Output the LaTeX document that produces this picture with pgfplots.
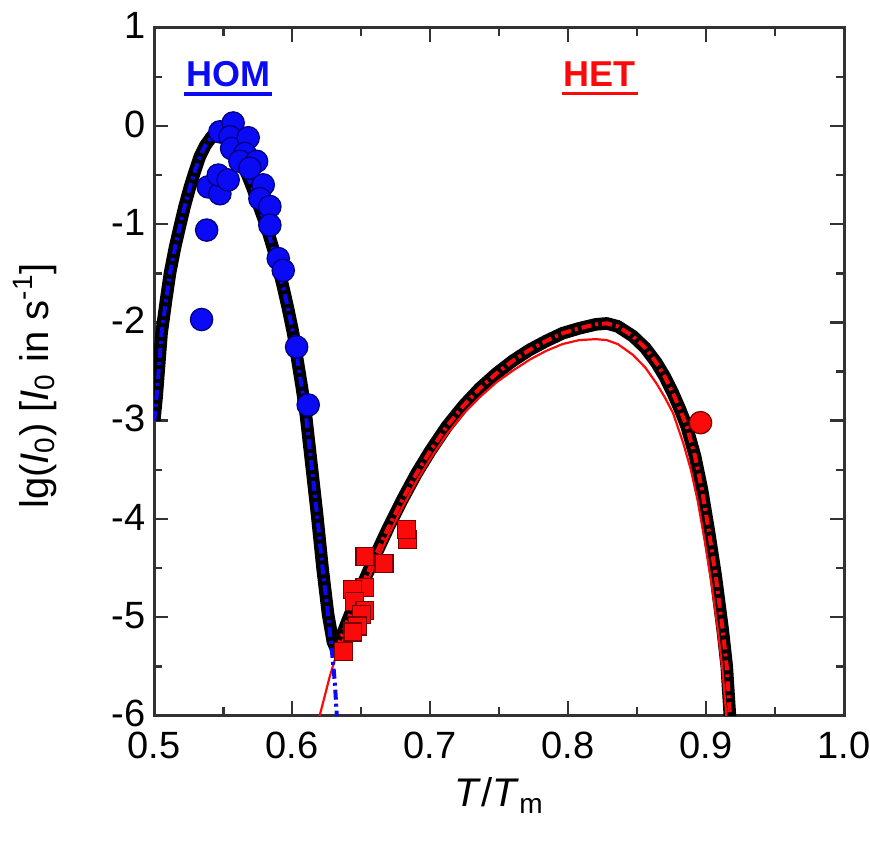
\documentclass[border=0pt]{standalone}
\usepackage{fontspec}
\setmainfont{Liberation Sans}
\usepackage{pgfplots}
\pgfplotsset{compat=1.18}

\definecolor{homblue}{RGB}{10,10,245}
\definecolor{homedge}{RGB}{0,0,120}
\definecolor{hetred}{RGB}{250,10,10}
\definecolor{hetedge}{RGB}{120,0,0}
\definecolor{axgray}{RGB}{50,50,50}

\begin{document}
\begin{tikzpicture}
\begin{axis}[
  width=345pt, height=344pt, scale only axis,
  xmin=0.5, xmax=1.0, ymin=-6, ymax=1,
  xtick={0.5,0.6,0.7,0.8,0.9,1.0}, minor x tick num=1,
  ytick={-6,-5,-4,-3,-2,-1,0,1}, minor y tick num=1,
  tick align=inside, major tick length=7pt, minor tick length=4pt,
  every tick/.style={axgray, line width=1.3pt},
  axis line style={axgray, line width=1.5pt},
  /pgf/number format/assume math mode=true,
  xticklabel style={/pgf/number format/fixed, /pgf/number format/fixed zerofill,
    /pgf/number format/precision=1, yshift=-4.5pt},
  yticklabel style={xshift=-1pt, yshift=1pt},
  tick label style={font=\fontsize{19}{22}\selectfont},
  xlabel={\textit{T}/\textit{T}\textsubscript{m}},
  xlabel style={font=\fontsize{20}{24}\selectfont, at={(axis description cs:0.5,-0.133)}, anchor=base},
  ylabel={lg(\textit{I}\textsubscript{0}) [\textit{I}\textsubscript{0} in s\textsuperscript{-1}]},
  ylabel style={font=\fontsize{20}{24}\selectfont, at={(axis description cs:-0.154,0.479)}, anchor=base},
  clip=true,
]

% total rate (thick black)
\addplot[black, line width=6.3pt, line join=round] coordinates {
(0.500,-3.00) (0.5017,-2.76) (0.5053,-2.11) (0.5085,-1.78) (0.5114,-1.50) (0.515,-1.24)
(0.5186,-1.02) (0.522,-0.82) (0.5259,-0.62) (0.5295,-0.46) (0.5331,-0.31) (0.537,-0.20)
(0.5416,-0.11) (0.545,-0.06) (0.548,-0.04) (0.5515,-0.06) (0.555,-0.11) (0.559,-0.20)
(0.563,-0.32) (0.567,-0.48) (0.5715,-0.64) (0.5766,-0.84) (0.5815,-1.03) (0.5862,-1.25)
(0.590,-1.44) (0.5936,-1.65) (0.597,-1.86) (0.6007,-2.11) (0.604,-2.40) (0.607,-2.66)
(0.610,-2.95) (0.614,-3.45) (0.618,-3.95) (0.622,-4.50) (0.626,-4.97) (0.6295,-5.25)
(0.632,-5.33) (0.636,-5.19) (0.640,-5.04) (0.650,-4.70) (0.660,-4.38) (0.670,-4.08)
(0.680,-3.80) (0.690,-3.54) (0.700,-3.31) (0.712,-3.06) (0.724,-2.85) (0.736,-2.67)
(0.748,-2.52) (0.760,-2.39) (0.772,-2.28) (0.784,-2.19) (0.796,-2.11) (0.808,-2.06)
(0.820,-2.02) (0.828,-2.01) (0.836,-2.04) (0.847,-2.14) (0.856,-2.26) (0.864,-2.41)
(0.870,-2.55) (0.876,-2.72) (0.881,-2.88) (0.886,-3.06) (0.892,-3.36) (0.897,-3.70)
(0.902,-4.12) (0.907,-4.58) (0.912,-5.12) (0.915,-5.50) (0.9175,-6.05)
};

% heterogeneous model (thin red)
\addplot[hetred, line width=1.1pt] coordinates {
(0.6196,-6.02) (0.624,-5.78) (0.6273,-5.60) (0.631,-5.43) (0.636,-5.27) (0.640,-5.12)
(0.650,-4.78) (0.660,-4.46) (0.670,-4.16) (0.680,-3.88) (0.690,-3.62) (0.700,-3.39)
(0.712,-3.14) (0.724,-2.93) (0.736,-2.76) (0.748,-2.61) (0.760,-2.49) (0.772,-2.38)
(0.784,-2.29) (0.796,-2.22) (0.808,-2.18) (0.820,-2.17) (0.828,-2.18) (0.836,-2.22)
(0.847,-2.33) (0.856,-2.46) (0.864,-2.62) (0.870,-2.76) (0.876,-2.92) (0.8833,-3.22)
(0.889,-3.50) (0.894,-3.82) (0.899,-4.22) (0.904,-4.66) (0.909,-5.18) (0.912,-5.55)
(0.9148,-6.02)
};

% homogeneous model (blue dash-dot)
\addplot[homblue, line width=2pt, dash pattern=on 5pt off 2pt on 1.5pt off 2pt] coordinates {
(0.500,-3.00) (0.5017,-2.76) (0.5053,-2.11) (0.5085,-1.78) (0.5114,-1.50) (0.515,-1.24)
(0.5186,-1.02) (0.522,-0.82) (0.5259,-0.62) (0.5295,-0.46) (0.5331,-0.31) (0.537,-0.20)
(0.5416,-0.11) (0.545,-0.06) (0.548,-0.04) (0.5515,-0.06) (0.555,-0.11) (0.559,-0.20)
(0.563,-0.32) (0.567,-0.48) (0.5715,-0.64) (0.5766,-0.84) (0.5815,-1.03) (0.5862,-1.25)
(0.590,-1.44) (0.5936,-1.65) (0.597,-1.86) (0.6007,-2.11) (0.604,-2.40) (0.607,-2.66)
(0.610,-2.95) (0.614,-3.45) (0.618,-3.95) (0.622,-4.50) (0.626,-4.97) (0.6285,-5.30)
(0.6305,-5.60) (0.6315,-5.80) (0.6325,-6.05)
};

% heterogeneous model (red dash-dot)
\addplot[hetred, line width=2pt, dash pattern=on 5pt off 2pt on 1.5pt off 2pt] coordinates {
(0.632,-5.33) (0.636,-5.19) (0.640,-5.04) (0.650,-4.70) (0.660,-4.38) (0.670,-4.08)
(0.680,-3.80) (0.690,-3.54) (0.700,-3.31) (0.712,-3.06) (0.724,-2.85) (0.736,-2.67)
(0.748,-2.52) (0.760,-2.39) (0.772,-2.28) (0.784,-2.19) (0.796,-2.11) (0.808,-2.06)
(0.820,-2.02) (0.828,-2.01) (0.836,-2.04) (0.847,-2.14) (0.856,-2.26) (0.864,-2.41)
(0.870,-2.55) (0.876,-2.72) (0.881,-2.88) (0.886,-3.06) (0.892,-3.36) (0.897,-3.70)
(0.902,-4.12) (0.907,-4.58) (0.912,-5.12) (0.915,-5.50) (0.9175,-6.05)
};

% HOM data
\addplot[only marks, mark=*, mark size=5.6pt, mark options={fill=homblue, draw=homedge, line width=0.6pt}] coordinates {
(0.5343,-1.97) (0.5380,-1.06) (0.5391,-0.62) (0.5476,-0.69) (0.5464,-0.50) (0.5536,-0.55)
(0.5476,-0.06) (0.5572,0.03) (0.5549,-0.11) (0.5561,-0.23) (0.5681,-0.12) (0.5657,-0.28)
(0.5621,-0.36) (0.5742,-0.36) (0.5693,-0.43) (0.5790,-0.60) (0.5766,-0.74) (0.5838,-0.82)
(0.5838,-1.01) (0.5899,-1.35) (0.5935,-1.47) (0.6032,-2.25) (0.6116,-2.84)
};

% HET data
\addplot[only marks, mark=square*, mark size=4.5pt, mark options={fill=hetred, draw=hetedge, line width=0.6pt}] coordinates {
(0.6833,-4.21) (0.6830,-4.11) (0.6665,-4.45) (0.6527,-4.38) (0.6527,-4.70) (0.6435,-4.72)
(0.6450,-4.84) (0.6527,-4.93) (0.6500,-4.97) (0.6475,-5.09) (0.6440,-5.15) (0.6370,-5.35)
};
\addplot[only marks, mark=*, mark size=5.6pt, mark options={fill=hetred, draw=hetedge, line width=0.6pt}] coordinates {
(0.896,-3.02)
};

\node[homblue, font=\bfseries\fontsize{18}{20}\selectfont, inner sep=0pt] (hom) at (axis cs:0.5535,0.53) {HOM};
\draw[homblue, line width=1.8pt] ([xshift=-1pt,yshift=-3.5pt]hom.south west) -- ([xshift=1pt,yshift=-3.5pt]hom.south east);
\node[hetred, font=\bfseries\fontsize{18}{20}\selectfont, inner sep=0pt] (het) at (axis cs:0.8231,0.53) {HET};
\draw[hetred, line width=1.8pt] ([xshift=-1pt,yshift=-3.5pt]het.south west) -- ([xshift=1pt,yshift=-3.5pt]het.south east);
\end{axis}
\pgfresetboundingbox
\path ([shift={(-77.15pt,-63.5pt)}]current axis.south west) rectangle ([shift={(13pt,13.85pt)}]current axis.north east);
\end{tikzpicture}
\end{document}
